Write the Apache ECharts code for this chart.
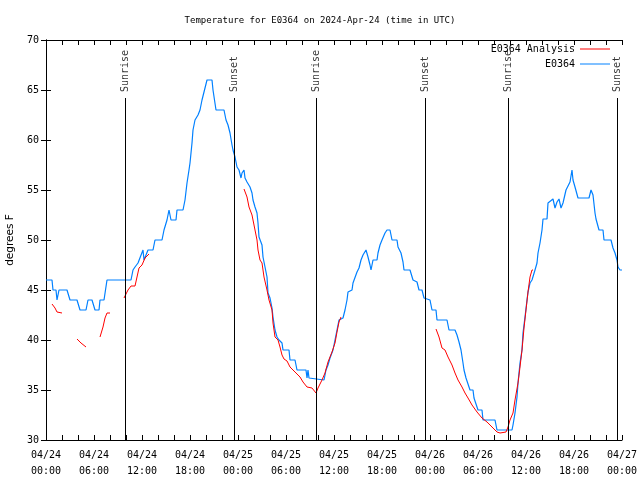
<!DOCTYPE html>
<html><head><meta charset="utf-8">
<script src="https://cdn.jsdelivr.net/npm/echarts@6.0.0/dist/echarts.min.js"></script>
<style>html,body{margin:0;padding:0;background:#fff}#c{width:640px;height:480px}</style>
</head><body><div id="c"></div>
<script>
// hours since 2024-04-24 00:00 UTC
const xTickLabels = ['04/24\n00:00','04/24\n06:00','04/24\n12:00','04/24\n18:00','04/25\n00:00','04/25\n06:00','04/25\n12:00','04/25\n18:00','04/26\n00:00','04/26\n06:00','04/26\n12:00','04/26\n18:00','04/27\n00:00'];
const yTickValues = [30,35,40,45,50,55,60,65,70];

const obsTimes = [0,0.75,0.875,1.25,1.375,1.625,2.625,3,3.875,4.25,5,5.25,5.75,6.125,6.625,6.75,7.25,7.625,10.625,10.875,11.125,11.5,12.125,12.25,12.5,12.75,13.375,13.625,14.5,14.75,15,15.125,15.375,15.625,16.25,16.375,17.125,17.375,17.625,17.875,18,18.25,18.375,18.625,19,19.25,19.5,19.75,20.125,20.75,20.875,21.25,22.25,22.5,22.75,23,23.25,23.375,23.625,23.875,24.125,24.375,24.5,24.75,24.875,25.125,25.5,25.75,25.875,26.125,26.375,26.5,26.625,27,27.125,27.375,27.625,27.75,28,28.25,28.375,28.625,28.875,29.125,29.5,29.625,30.375,30.5,31.125,31.375,32.5,32.625,32.75,32.875,33.125,34.75,35,35.25,35.5,35.875,36.125,36.375,36.625,37.125,37.375,37.625,37.75,38.25,38.375,38.875,39.125,39.375,39.625,40,40.25,40.5,40.625,40.875,41.375,41.5,41.75,42,42.375,42.625,43,43.25,43.875,44,44.375,44.625,44.75,45.5,45.875,46.375,46.625,47,47.25,47.5,48,48.25,48.75,48.875,50.125,50.375,51.125,51.375,51.625,51.875,52.125,52.25,52.5,52.75,53,53.375,53.5,53.75,54,54.5,54.625,56.125,56.375,58.25,58.375,58.625,58.875,59,59.25,59.5,59.625,59.875,60.125,60.25,60.5,60.75,60.875,61.125,61.375,61.5,61.75,62,62.125,62.625,62.75,63.375,63.625,63.875,64.125,64.375,64.625,65,65.25,65.5,65.75,65.875,66.125,66.5,67.875,68.125,68.375,68.625,68.75,69.125,69.625,69.75,70.625,70.875,71.125,71.375,71.5,71.75,72];
const obsValues = [46,46,45,45,44,45,45,44,44,43,43,44,44,43,43,44,44,46,46,47,47.3,47.7,49,48,48,49,49,50,50,51,51,52,53,52,52,53,53,54,55.7,57,57.7,59.7,61,62,62.5,63,64,64.8,66,66,65,63,63,62,61.5,60.7,59.5,59,58.3,57.3,57,56.2,56.7,57,56.2,55.8,55.3,54.7,54,53.3,52.7,51.7,50.3,49.5,48.3,47.3,46.3,44.7,44.2,43.2,42.3,41,40.3,40,39.7,39,39,38,38,37,37,36.2,37,36.2,36,36,37,37.5,38.2,39,40,41,42,42.2,43,44,44.8,45,45.7,46.8,47.2,48,48.5,49,48.3,47.5,47,48,48,48.7,49.5,50,50.7,51,51,50,50,49.3,48.7,47.8,47,47,46,45.8,45,45,44.2,44,44,43,43,42,42,41,41,40.5,39.8,39,37.7,37,36.2,36,35,35,34.2,33.6,33,33,32,32,31,31,31.5,32.7,34.3,35.7,37.7,39,40.7,42.3,44,44.8,45.7,46,46,47,47.7,48.7,49.7,51,52.1,52.1,53.7,54.1,53.2,53.8,54.1,53.2,53.7,55,55,55.8,57,56,55.3,54.2,54.2,55,54.5,52.7,52.1,51,51,50,50,49.2,48.7,48,47.3,47,47];

// null = gap in the analysis series
const anaTimes = [0.75,1.125,1.375,1.625,2,2.5, 3.875,4.375,5,5.5, 6.75,7.125,7.375,7.625,8,8.5, 9.75,10.25,10.625,11.125,11.375,11.625,12,12.375,12.625,12.875,13.5, 24.75,25.125,25.375,25.75,26,26.375,26.5,26.75,27,27.25,27.625,27.875,28.25,28.375,28.625,29,29.25,29.5,29.75,30.125,30.5,30.875,31.375,31.75,32.125,32.625,33.25,33.75,34,34.5,34.875,35.25,35.75,36.125,36.375,36.625,36.875,40, 48.75,49.125,49.5,49.875,50.25,50.75,51.125,51.5,52,52.375,52.75,53.25,53.875,54.5,55.125,55.75,56.375,56.75,57.5,57.75,58,58.375,58.625,58.875,59,59.25,59.5,59.75,60,60.25,60.5,60.75,60.875];
const anaValues = [43.6,43.2,42.8,42.7,42.7,null, 40.1,39.7,39.3,null, 40.3,41.3,42.2,42.7,42.7,null, 44.2,45,45.4,45.4,46.3,47.2,47.5,48.2,48.3,48.6,null, 55.1,54.3,53.3,52.5,51.5,50,49,48,47.7,46.3,45,44,43,41.7,40.3,40,39.3,38.5,38.1,37.9,37.3,37,36.6,36.3,35.8,35.3,35.2,34.7,35.2,36,36.7,37.8,38.8,39.7,40.8,41.8,42.3,null, 41.1,40.3,39.2,39,38.3,37.5,36.7,36,35.3,34.7,34.2,33.5,32.8,32.2,31.8,31.3,30.8,30.7,30.8,31.3,32,32.7,34,34,35.7,37.3,39,41.2,43,44.8,46.3,47,47];

const eventNames = ['Sunrise','Sunset','Sunrise','Sunset','Sunrise','Sunset'];
const eventTimes = [9.93,23.53,33.83,47.42,57.8,71.42];
const eventLineTop = 64.2;
const eventLabelBase = 64.8;

const FONT = 'DejaVu Sans Mono';
const pairs = (xs, ys) => xs.map((x, i) => [x, ys[i] === null ? '-' : ys[i]]);

const chart = echarts.init(document.getElementById('c'), null, {renderer: 'canvas'});
const axisLine = {show: true, lineStyle: {color: '#000', width: 1}};
const legendText = {fontFamily: FONT, fontSize: 10, color: '#000'};
chart.setOption({
  animation: false,
  backgroundColor: '#fff',
  title: {text: 'Temperature for E0364 on 2024-Apr-24 (time in UTC)', left: 'center', top: 11,
    textStyle: {fontFamily: FONT, fontSize: 9, fontWeight: 'normal', color: '#000'}},
  grid: {left: 46, right: 18, top: 40, bottom: 40, containLabel: false, outerBoundsMode: 'none'},
  legend: [
    {data: ['E0364 Analysis'], right: 25, top: 39, align: 'right', itemWidth: 30, itemHeight: 9, itemGap: 0,
      icon: 'path://M0,4 L30,4 L30,5 L0,5 Z', textStyle: legendText},
    {data: ['E0364'], right: 25, top: 54, align: 'right', itemWidth: 30, itemHeight: 9, itemGap: 0,
      icon: 'path://M0,4 L30,4 L30,5 L0,5 Z', textStyle: legendText}
  ],
  xAxis: [
    {type: 'value', min: 0, max: 72, interval: 2, position: 'bottom', axisLine,
      axisTick: {inside: true, length: 5, lineStyle: {color: '#000'}},
      axisLabel: {margin: 7, fontFamily: FONT, fontSize: 10, color: '#000', lineHeight: 16,
        formatter: v => (v % 6 === 0 ? xTickLabels[v / 6] : '')},
      splitLine: {show: false}},
    {type: 'value', min: 0, max: 72, interval: 2, position: 'top', axisLine,
      axisTick: {inside: true, length: 5, lineStyle: {color: '#000'}},
      axisLabel: {show: false}, splitLine: {show: false}}
  ],
  yAxis: [
    {type: 'value', min: yTickValues[0], max: yTickValues[yTickValues.length - 1], interval: 5, position: 'left', axisLine,
      axisTick: {inside: true, length: 5, lineStyle: {color: '#000'}},
      axisLabel: {margin: 7, fontFamily: FONT, fontSize: 10, color: '#000'},
      splitLine: {show: false},
      name: 'degrees F', nameLocation: 'middle', nameGap: 29, nameRotate: 90,
      nameTextStyle: {fontFamily: 'DejaVu Sans', fontSize: 10.5, color: '#000'}},
    {type: 'value', min: yTickValues[0], max: yTickValues[yTickValues.length - 1], interval: 5, position: 'right', axisLine,
      axisTick: {inside: true, length: 5, lineStyle: {color: '#000'}},
      axisLabel: {show: false}, splitLine: {show: false}}
  ],
  series: [
    {name: 'E0364 Analysis', type: 'line', data: pairs(anaTimes, anaValues), showSymbol: false, symbol: 'none',
      connectNulls: false, lineStyle: {color: '#ff0000', width: 1}, itemStyle: {color: '#ff0000'}, z: 3},
    {name: 'E0364', type: 'line', data: pairs(obsTimes, obsValues), showSymbol: false, symbol: 'none',
      lineStyle: {color: '#0080ff', width: 1.2}, itemStyle: {color: '#0080ff'}, z: 2},
    {name: 'events', type: 'scatter', symbolSize: 0.1, silent: true, z: 4,
      data: eventTimes.map((t, i) => ({value: [t, eventLabelBase], name: eventNames[i]})),
      label: {show: true, position: 'inside', rotate: 90, align: 'left', verticalAlign: 'middle',
        formatter: p => p.name, fontFamily: FONT, fontSize: 10, color: '#000'},
      markLine: {symbol: 'none', silent: true, label: {show: false},
        lineStyle: {color: '#000', width: 1, type: 'solid'},
        data: eventTimes.map(t => [{coord: [t, yTickValues[0]]}, {coord: [t, eventLineTop]}])}}
  ]
});
</script></body></html>
